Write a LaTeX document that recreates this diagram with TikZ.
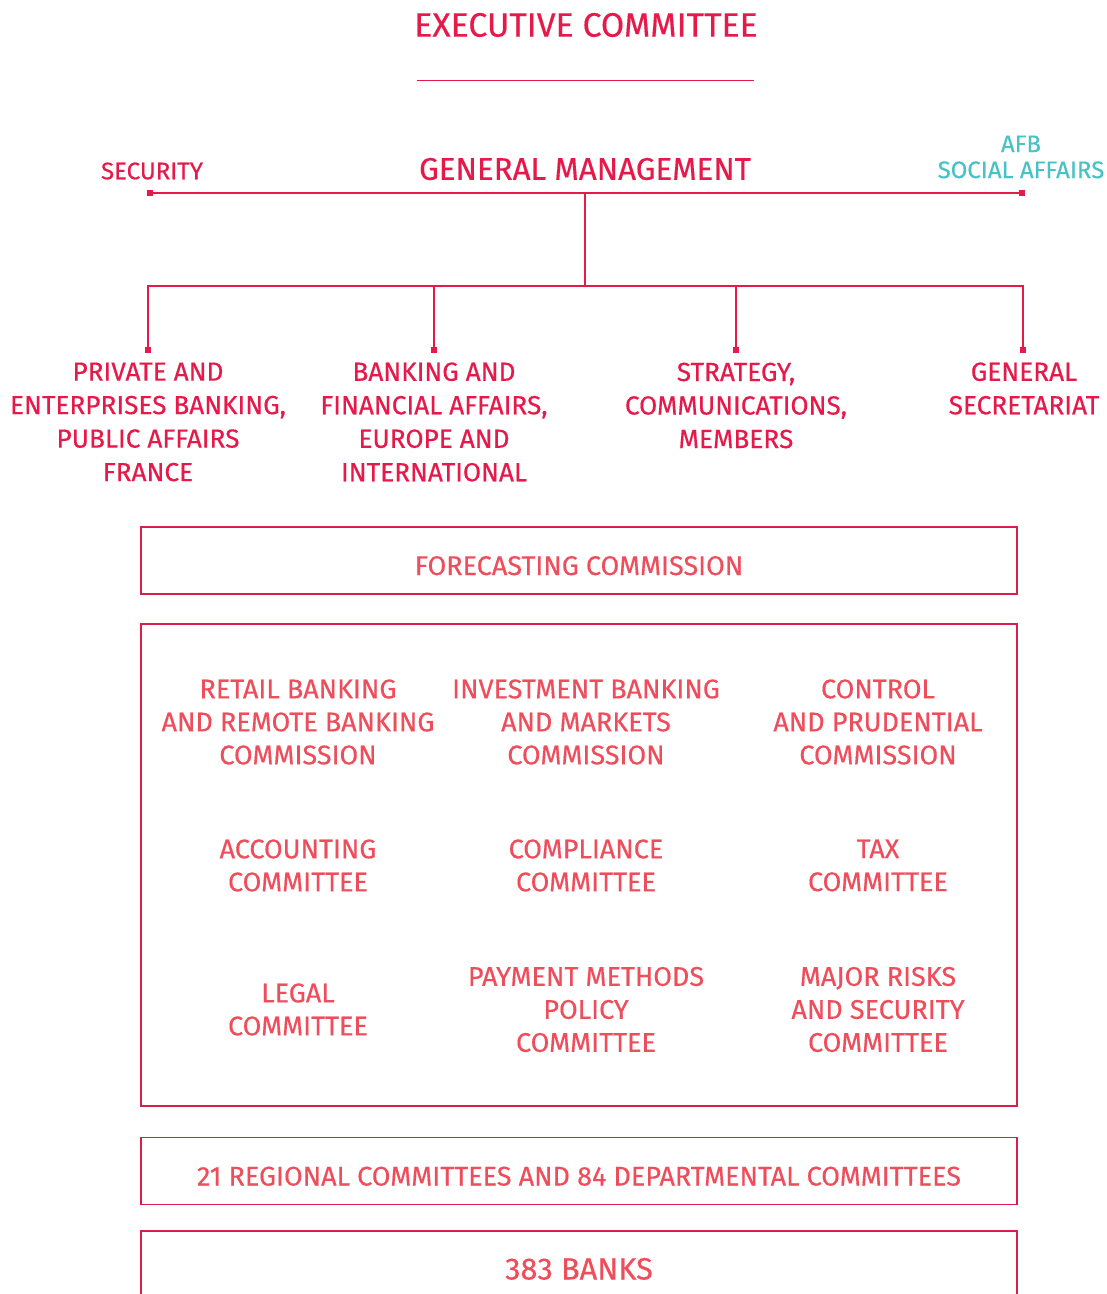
\documentclass[tikz,border=0pt]{standalone}
\usepackage{fontspec}
\setmainfont{Fira Sans}[FakeBold=0.4,BoldFont={Fira Sans}]
\usetikzlibrary{positioning}
\definecolor{afbred}{HTML}{E5194A}
\definecolor{afbpink}{HTML}{EE4D5C}
\definecolor{afbteal}{HTML}{48C2C4}
\definecolor{afbline}{HTML}{D81E4A}
\begin{document}
\begin{tikzpicture}[x=1pt,y=-1pt,
head/.style={text=afbred,inner sep=0pt,font=\fontsize{33.8}{38}\selectfont},
unit/.style={text=afbred,inner sep=0pt,align=center,font=\fontsize{26.2}{33.5}\selectfont},
side/.style={inner sep=0pt,align=center,font=\fontsize{24}{26}\selectfont},
comm/.style={text=afbpink,inner sep=0pt,align=center,font=\fontsize{27}{33}\selectfont},
panel/.style={draw=afbline,line width=1.3pt,minimum width=876pt,minimum height=67pt,inner sep=0pt,
  text height=29pt,text depth=0pt,text=afbpink,font=\fontsize{27}{30}\selectfont},
dot/.style={fill=afbred,minimum size=6.5pt,inner sep=0pt},
link/.style={draw=afbred,line width=1.4pt}]
\useasboundingbox (0,0) rectangle (1107,1294);
% top of the chart
\node[head] (exec) at (586,25) {EXECUTIVE COMMITTEE};
\coordinate (execl) at (417,80);
\coordinate (execr) at (754,80);
\draw[link,line width=1pt] (execl) -- (execr);
\node[head,font=\fontsize{31.3}{36}\selectfont] (gm) at (585,169) {GENERAL MANAGEMENT};
\node[side,text=afbred] (security) at (152,171) {SECURITY};
\node[side,text=afbteal] (social) at (1021,157) {AFB\\SOCIAL AFFAIRS};
\node[dot] (secdot) at (150,193) {};
\node[dot] (socdot) at (1022,193) {};
\coordinate (gmjoin) at (585,193);
\coordinate (split) at (585,286);
% departments
\node[dot] (d1) at (148,350) {};
\node[dot] (d2) at (434,350) {};
\node[dot] (d3) at (736,350) {};
\node[dot] (d4) at (1023,350) {};
\node[unit] (private) at (148,422) {PRIVATE AND\\ENTERPRISES BANKING,\\PUBLIC AFFAIRS\\FRANCE};
\node[unit] (banking) at (434,422) {BANKING AND\\FINANCIAL AFFAIRS,\\EUROPE AND\\INTERNATIONAL};
\node[unit] (strategy) at (736,405.5) {STRATEGY,\\COMMUNICATIONS,\\MEMBERS};
\node[unit] (secretariat) at (1024,388.5) {GENERAL\\SECRETARIAT};
\draw[link] (secdot) -- (socdot);
\draw[link] (gmjoin) -- (split);
\draw[link] (split) -| (d1);
\draw[link] (split) -| (d2);
\draw[link] (split) -| (d3);
\draw[link] (split) -| (d4);
% commissions
\node[panel] (forecast) at (579,560.5) {FORECASTING COMMISSION};
\node[panel,minimum height=482pt] (commbox) at (579,865) {};
\node[comm] (retail) at (298,722) {RETAIL BANKING\\AND REMOTE BANKING\\COMMISSION};
\node[comm] (invest) at (586,722) {INVESTMENT BANKING\\AND MARKETS\\COMMISSION};
\node[comm] (control) at (878,722) {CONTROL\\AND PRUDENTIAL\\COMMISSION};
\node[comm] (account) at (298,865.5) {ACCOUNTING\\COMMITTEE};
\node[comm] (comply) at (586,865.5) {COMPLIANCE\\COMMITTEE};
\node[comm] (tax) at (878,865.5) {TAX\\COMMITTEE};
\node[comm] (legal) at (298,1009.5) {LEGAL\\COMMITTEE};
\node[comm] (payment) at (586,1009.5) {PAYMENT METHODS\\POLICY\\COMMITTEE};
\node[comm] (risks) at (878,1009.5) {MAJOR RISKS\\AND SECURITY\\COMMITTEE};
\node[panel] (regional) at (579,1171) {21 REGIONAL COMMITTEES AND 84 DEPARTMENTAL COMMITTEES};
\node[panel,font=\fontsize{30.8}{34}\selectfont,text height=30pt] (banks) at (579,1264.5) {383 BANKS};
\end{tikzpicture}
\end{document}
